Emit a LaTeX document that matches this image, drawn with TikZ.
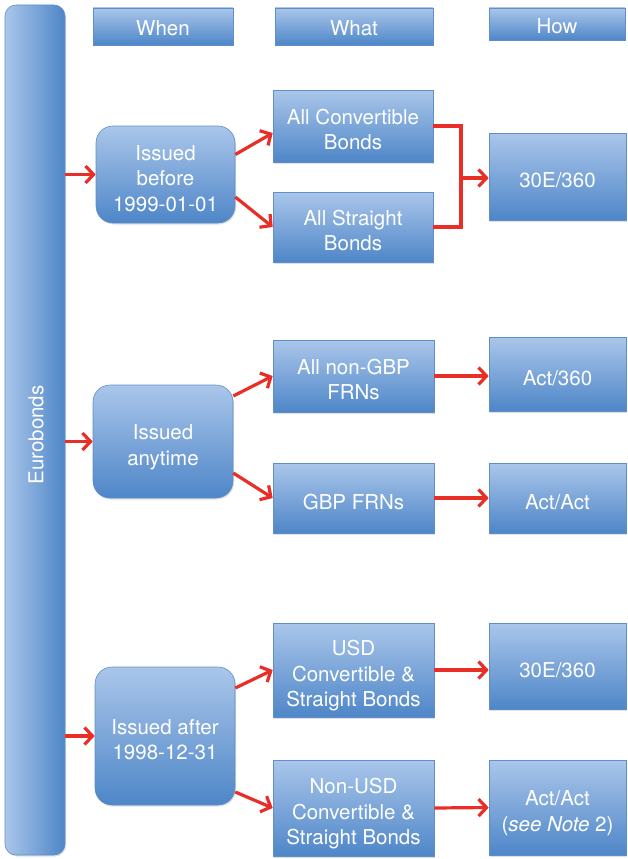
\documentclass[tikz,border=0pt]{standalone}
\usepackage{fontspec}
\setmainfont{TeX Gyre Heros}
\usetikzlibrary{arrows.meta,shadows,calc}
\definecolor{boxtop}{RGB}{170,198,234}
\definecolor{boxbot}{RGB}{78,134,200}
\definecolor{boxline}{RGB}{95,142,200}
\definecolor{arrowred}{RGB}{232,46,38}
% text block set by line metrics: fixed ascent on the first line, fixed descent on the last
\newcommand\lm[1]{\rule{0pt}{26.5pt}#1\rule[-4.5pt]{0pt}{4.5pt}}
\newcommand\lmhead[1]{\rule{0pt}{23.3pt}#1\rule[-4.5pt]{0pt}{4.5pt}}
\begin{document}
\begin{tikzpicture}[x=1pt,y=-1pt,
  every node/.style={font=\fontsize{20.5}{25.5}\selectfont, text=white, align=center, inner sep=0pt},
  bluebox/.style={draw=boxline, line width=0.6pt, top color=boxtop, bottom color=boxbot,
    drop shadow={opacity=0.25, shadow xshift=1pt, shadow yshift=-1.5pt}},
  headbox/.style={bluebox},
  sqbox/.style={bluebox},
  rndbox/.style={bluebox, rounded corners=17pt},
  link/.style={draw=arrowred, line width=3.2pt, -{Straight Barb[length=8pt,width=17pt,line width=3.2pt]}},
  joinline/.style={draw=arrowred, line width=3.2pt, line join=miter}
]
\useasboundingbox (0,0) rectangle (627,859);

% side bar
\node[draw=boxline, line width=0.6pt, left color=boxtop, right color=boxbot, rounded corners=11pt,
  minimum width=60pt, minimum height=850pt,
  drop shadow={opacity=0.25, shadow xshift=1pt, shadow yshift=-1.5pt}] (bar) at (35,430) {};
\node[rotate=90] (barlabel) at (36,435) {Eurobonds};

% column headers
\node[headbox, minimum width=140pt, minimum height=37pt] (when) at (163,26.5) {\lmhead{When}};
\node[headbox, minimum width=158pt, minimum height=37pt] (what) at (354,26.5) {\lmhead{What}};
\node[headbox, minimum width=136pt, minimum height=32pt] (how) at (557,24) {\lmhead{How}};

% first group
\node[rndbox, minimum width=139pt, minimum height=97pt] (before) at (165.5,174.5) {\lm{Issued\\before\\1999-01-01}};
\node[sqbox, minimum width=160pt, minimum height=72pt] (conv) at (353,126) {\lm{All Convertible\\Bonds}};
\node[sqbox, minimum width=160pt, minimum height=70pt] (straight) at (353,227) {\lm{All Straight\\Bonds}};
\node[sqbox, minimum width=137pt, minimum height=87pt] (hA) at (557.5,176.5) {\lm{30E/360}};

% second group
\node[rndbox, minimum width=140pt, minimum height=113pt] (anytime) at (163,441.5) {\lm{Issued\\anytime}};
\node[sqbox, minimum width=161pt, minimum height=72pt] (nongbp) at (353.5,376) {\lm{All non-GBP\\FRNs}};
\node[sqbox, minimum width=161pt, minimum height=70pt] (gbp) at (353.5,498) {\lm{GBP FRNs}};
\node[sqbox, minimum width=137pt, minimum height=74pt] (hB) at (557.5,374) {\lm{Act/360}};
\node[sqbox, minimum width=137pt, minimum height=70pt] (hC) at (557.5,498) {\lm{Act/Act}};

% third group
\node[rndbox, minimum width=140pt, minimum height=138pt] (after) at (165,736) {\lm{Issued after\\1998-12-31}};
\node[sqbox, minimum width=161pt, minimum height=94pt] (usd) at (353.5,670) {\lm{USD\\Convertible \&\\Straight Bonds}};
\node[sqbox, minimum width=161pt, minimum height=96pt] (nonusd) at (353.5,808) {\lm{Non-USD\\Convertible \&\\Straight Bonds}};
\node[sqbox, minimum width=137pt, minimum height=86pt] (hD) at (557.5,666) {\lm{30E/360}};
\node[sqbox, minimum width=137pt, minimum height=95pt] (hE) at (557.5,807.5) {\lm{Act/Act\\(\textit{see Note} 2)}};

% connectors: first group
\draw[link] (bar.east |- before.west) -- (before.west);
\draw[link] ($(before.east)+(0,-20)$) -- ($(conv.west)+(0,7)$);
\draw[link] ($(before.east)+(0,22.5)$) -- (straight.west);
\coordinate (merge) at (461,178);
\draw[joinline] (conv.east) -- (conv.east -| merge) -- (straight.east -| merge) -- (straight.east);
\draw[link] (merge) -- (hA.west |- merge);

% connectors: second group
\draw[link] (bar.east |- anytime.west) -- (anytime.west);
\draw[link] ($(anytime.east)+(0,-45.5)$) -- (nongbp.west);
\draw[link] ($(anytime.east)+(0,31.5)$) -- (gbp.west);
\draw[link] (nongbp.east) -- (hB.west |- nongbp.east);
\draw[link] (gbp.east) -- (hC.west);

% connectors: third group
\draw[link] (bar.east |- after.west) -- (after.west);
\draw[link] ($(after.east)+(0,-48)$) -- (usd.west);
\draw[link] ($(after.east)+(0,56)$) -- (nonusd.west);
\draw[link] (usd.east) -- (hD.west |- usd.east);
\draw[link] (nonusd.east) -- (hE.west);
\end{tikzpicture}
\end{document}
